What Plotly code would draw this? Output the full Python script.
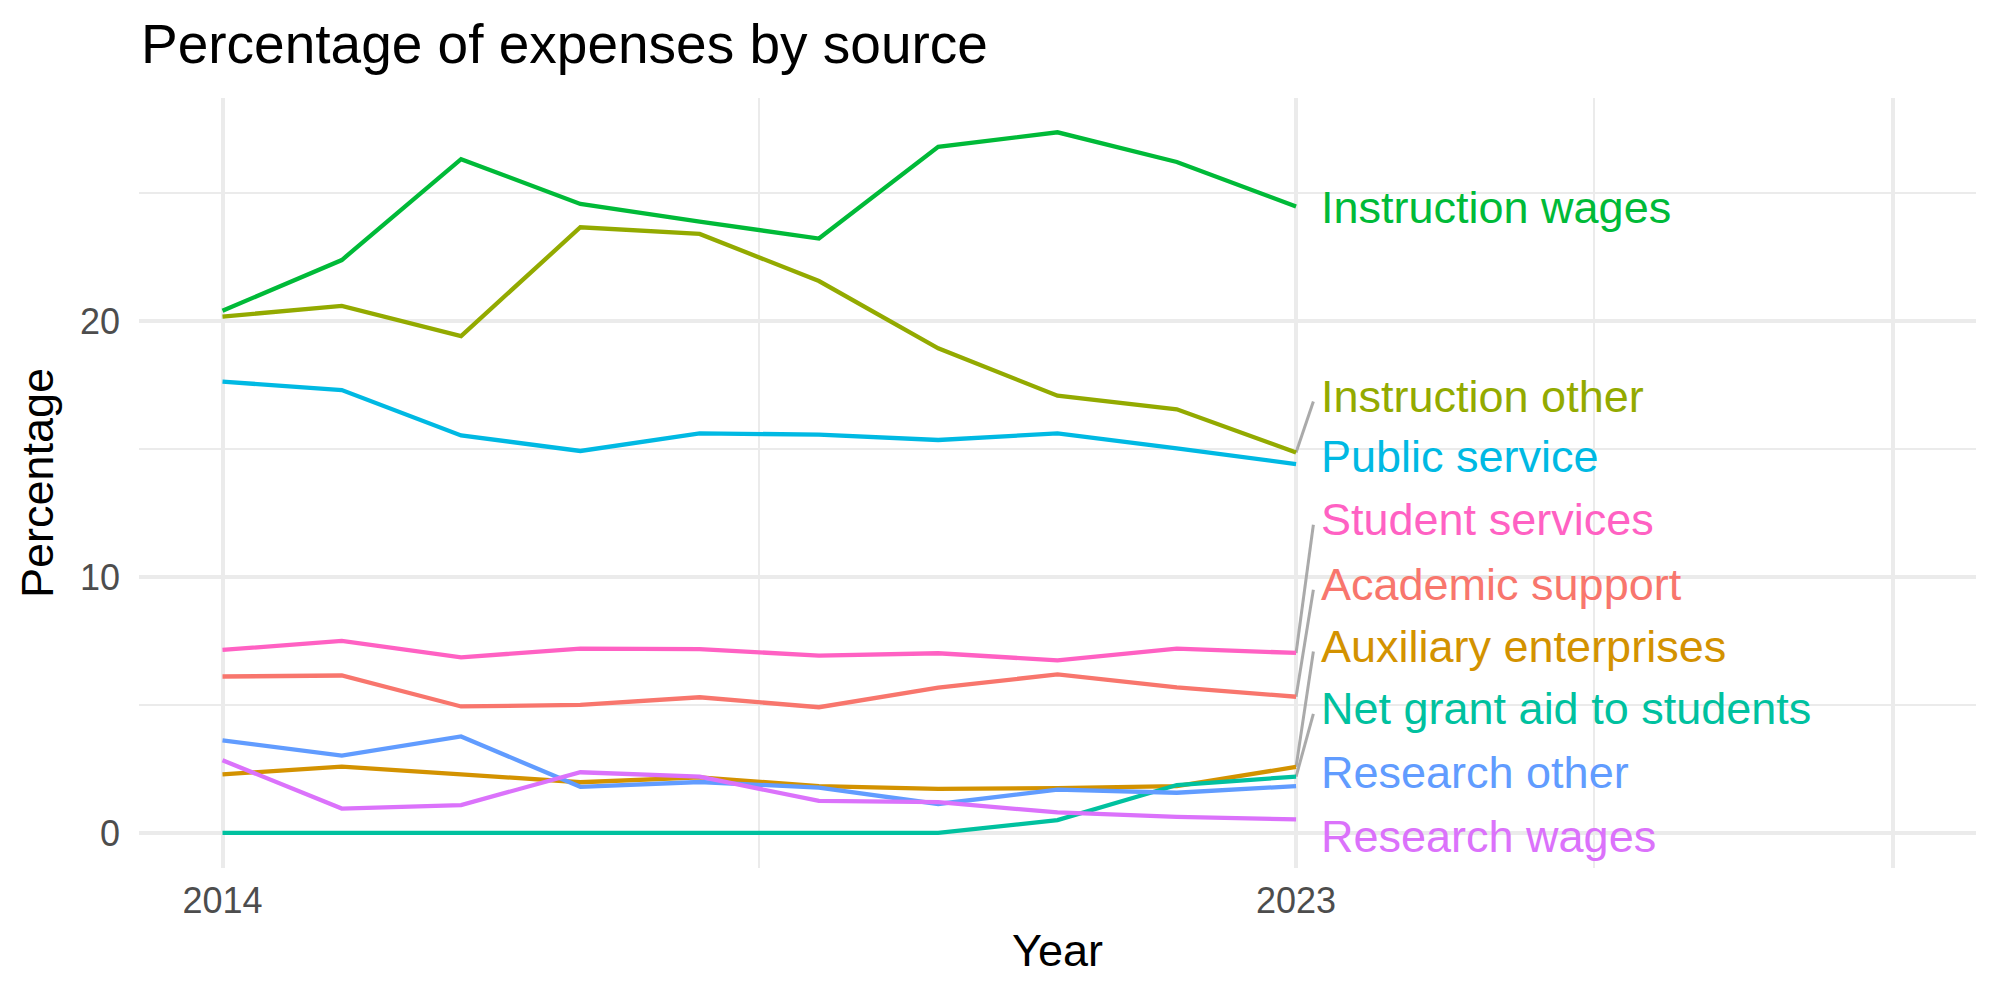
import plotly.graph_objects as go

years = [2014, 2015, 2016, 2017, 2018, 2019, 2020, 2021, 2022, 2023]

categories = [
    "Academic support", "Auxiliary enterprises", "Instruction other",
    "Instruction wages", "Net grant aid to students", "Public service",
    "Research other", "Research wages", "Student services",
]

academic_support = [6.11, 6.15, 4.94, 5.00, 5.30, 4.91, 5.68, 6.19, 5.69, 5.32]
auxiliary_enterprises = [2.29, 2.59, 2.29, 1.98, 2.17, 1.83, 1.72, 1.75, 1.83, 2.58]
instruction_other = [20.17, 20.59, 19.41, 23.66, 23.40, 21.56, 18.93, 17.08, 16.55, 14.86]
instruction_wages = [20.40, 22.38, 26.32, 24.57, 23.88, 23.22, 26.80, 27.37, 26.21, 24.47]
net_grant_aid = [0, 0, 0, 0, 0, 0, 0, 0.50, 1.87, 2.20]
public_service = [17.63, 17.30, 15.53, 14.92, 15.61, 15.56, 15.35, 15.61, 15.02, 14.41]
research_other = [3.62, 3.02, 3.77, 1.80, 1.99, 1.77, 1.13, 1.69, 1.57, 1.83]
research_wages = [2.84, 0.95, 1.09, 2.37, 2.20, 1.25, 1.20, 0.80, 0.63, 0.53]
student_services = [7.15, 7.50, 6.86, 7.20, 7.18, 6.93, 7.02, 6.74, 7.20, 7.03]

series = [academic_support, auxiliary_enterprises, instruction_other,
          instruction_wages, net_grant_aid, public_service,
          research_other, research_wages, student_services]

colors = ["#F8766D", "#D39200", "#93AA00", "#00BA38", "#00C19F",
          "#00B9E3", "#619CFF", "#DB72FB", "#FF61C3"]

# repelled label positions (vertical centre, data units)
label_y = [9.70, 7.29, 17.05, 24.45, 4.85, 14.71, 2.37, -0.14, 12.24]
has_segment = [True, True, True, False, True, False, False, False, True]

x_tickvals = [2014, 2023, 2028]
x_ticktext = ["2014", "2023", ""]
x_minor = [2018.5, 2025.5]
y_tickvals = [0, 10, 20]
y_minor = [5, 15, 25]

FONT = "Liberation Sans, Arial, Helvetica, sans-serif"

fig = go.Figure()

label_x = 2023.19
seg_x = 2023.145

for name, vals, col, ly, seg in zip(categories, series, colors, label_y, has_segment):
    if seg:
        fig.add_trace(go.Scatter(
            x=[years[-1], seg_x], y=[vals[-1], ly - 0.2], mode="lines",
            line=dict(color="#AAAAAA", width=3), showlegend=False,
            hoverinfo="skip"))

for name, vals, col, ly in zip(categories, series, colors, label_y):
    fig.add_trace(go.Scatter(
        x=years, y=vals, mode="lines", name=name,
        line=dict(color=col, width=4.3), showlegend=False))
    fig.add_annotation(
        x=label_x, y=ly, text=name, showarrow=False,
        xanchor="left", yanchor="middle",
        font=dict(family=FONT, size=45, color=col))

fig.update_layout(
    width=2000, height=1000,
    margin=dict(l=139, r=24, t=98, b=132),
    paper_bgcolor="white", plot_bgcolor="white",
    showlegend=False,
    title=dict(text="Percentage of expenses by source",
               font=dict(family=FONT, size=55, color="black"),
               x=0.0705, xref="container", xanchor="left",
               y=0.956, yref="container", yanchor="middle"),
    font=dict(family=FONT),
)

fig.update_xaxes(
    range=[2013.3, 2028.7],
    tickvals=x_tickvals, ticktext=x_ticktext,
    showgrid=True, gridcolor="#EBEBEB", gridwidth=3.6,
    minor=dict(tickvals=x_minor, showgrid=True, gridcolor="#EBEBEB", gridwidth=1.8),
    zeroline=False, showline=False, ticks="",
    tickfont=dict(family=FONT, size=36, color="#4D4D4D"),
    ticklabelstandoff=8,
    title=dict(text="Year", font=dict(family=FONT, size=45, color="black"), standoff=14),
)
fig.update_yaxes(
    range=[-1.37, 28.71],
    tickvals=y_tickvals,
    showgrid=True, gridcolor="#EBEBEB", gridwidth=3.6,
    minor=dict(tickvals=y_minor, showgrid=True, gridcolor="#EBEBEB", gridwidth=1.8),
    zeroline=False, showline=False, ticks="",
    tickfont=dict(family=FONT, size=36, color="#4D4D4D"),
    ticklabelstandoff=18,
    title=dict(text="Percentage", font=dict(family=FONT, size=45, color="black"), standoff=12),
)

fig.write_html("out.html")
